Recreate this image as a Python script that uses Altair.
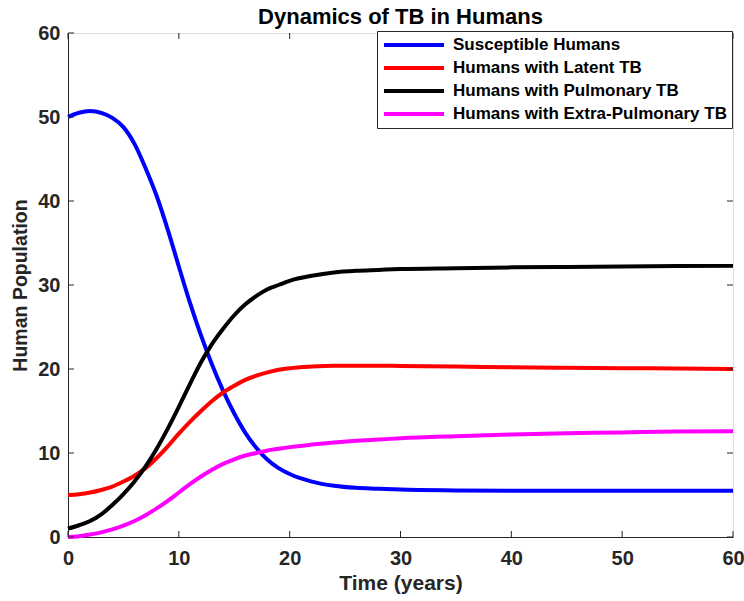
import altair as alt
import pandas as pd

# ---------------- data ----------------
time = [0, 1, 2, 3, 4, 5, 6, 7, 8, 9, 10, 11, 12, 13, 14, 15, 16, 17, 18, 19, 20,
        22, 24, 26, 28, 30, 35, 40, 45, 50, 55, 60]
susceptible = [50.0, 50.5, 50.7, 50.5, 49.9, 48.8, 46.8, 43.9, 40.6, 36.6, 32.2, 27.9,
               24.0, 20.5, 17.4, 14.7, 12.4, 10.6, 9.2, 8.2, 7.5,
               6.6, 6.1, 5.85, 5.75, 5.65, 5.55, 5.5, 5.5, 5.5, 5.5, 5.5]
latent = [5.0, 5.1, 5.3, 5.6, 6.0, 6.6, 7.3, 8.2, 9.4, 10.8, 12.3, 13.7,
          15.0, 16.2, 17.2, 18.0, 18.7, 19.2, 19.6, 19.9, 20.1,
          20.3, 20.4, 20.4, 20.4, 20.35, 20.3, 20.2, 20.15, 20.1, 20.05, 20.0]
pulmonary = [1.0, 1.4, 1.9, 2.7, 3.8, 5.1, 6.6, 8.4, 10.5, 12.9, 15.5, 18.2,
             20.8, 23.0, 24.8, 26.4, 27.7, 28.7, 29.5, 30.0, 30.5,
             31.1, 31.5, 31.7, 31.8, 31.9, 32.0, 32.1, 32.15, 32.2, 32.25, 32.3]
extra_pulmonary = [0.0, 0.1, 0.3, 0.55, 0.9, 1.35, 1.9, 2.6, 3.4, 4.3, 5.3, 6.3,
                   7.2, 8.0, 8.7, 9.25, 9.7, 10.0, 10.3, 10.5, 10.7,
                   11.0, 11.25, 11.45, 11.6, 11.75, 12.0, 12.2, 12.35, 12.45, 12.55, 12.6]

series_names = ["Susceptible Humans", "\u00a0Humans with Latent TB",
                "Humans with Pulmonary TB", "Humans with Extra-Pulmonary TB"]
series_colors = ["#0000FF", "#FF0000", "#000000", "#FF00FF"]
x_ticks = [0, 10, 20, 30, 40, 50, 60]
y_ticks = [0, 10, 20, 30, 40, 50, 60]

# ---------------- tables ----------------
rows = []
for name, vals in zip(series_names, [susceptible, latent, pulmonary, extra_pulmonary]):
    for t, v in zip(time, vals):
        rows.append({"t": t, "value": v, "series": name})
df = pd.DataFrame(rows)
xt = pd.DataFrame({"t": x_ticks})
yt = pd.DataFrame({"value": y_ticks})

# ---------------- styling ----------------
W, H = 665, 504
FONT = "Liberation Sans"
AX = "#262626"
TICK = 6

x_scale = alt.Scale(domain=[0, 60], nice=False, zero=False)
y_scale = alt.Scale(domain=[0, 60], nice=False, zero=False)

common = dict(grid=False, ticks=False, labelFlush=False, labelOverlap=False,
              labelFont=FONT, labelFontWeight="bold", labelColor=AX, labelFontSize=20,
              titleFont=FONT, titleFontWeight="bold", titleColor=AX,
              domainColor=AX, domainWidth=1)

x_axis = alt.Axis(title="Time (years)", values=x_ticks, labelPadding=11,
                  titleFontSize=21, titleX=W / 2, titleY=46,
                  titleBaseline="middle", titleAlign="center", **common)
y_axis = alt.Axis(title="Human Population", values=y_ticks, labelPadding=8,
                  titleFontSize=19.5, titleX=-48, titleY=H / 2,
                  titleBaseline="middle", titleAlign="center", titleAngle=270, **common)

X = alt.X("t:Q", scale=x_scale, axis=x_axis)
Y = alt.Y("value:Q", scale=y_scale, axis=y_axis)

lines = alt.Chart(df).mark_line(strokeWidth=4, interpolate="monotone").encode(
    x=X,
    y=Y,
    color=alt.Color(
        "series:N",
        scale=alt.Scale(domain=series_names, range=series_colors),
        legend=alt.Legend(
            title=None, orient="none", legendX=309, legendY=-2, direction="vertical",
            strokeColor=AX, fillColor="white", padding=5,
            symbolType="stroke", symbolSize=3600, symbolStrokeWidth=4,
            clipHeight=18, rowPadding=5, labelOffset=7,
            labelFont=FONT, labelFontSize=17, labelFontWeight="bold", labelColor="black",
            labelLimit=400,
        ),
    ),
    detail="series:N",
)

tick_x_bottom = alt.Chart(xt).mark_rule(color=AX, strokeWidth=1).encode(
    x=X, y=alt.value(H), y2=alt.value(H - TICK))
tick_x_top = alt.Chart(xt).mark_rule(color=AX, strokeWidth=1).encode(
    x=X, y=alt.value(0), y2=alt.value(TICK))
tick_y_left = alt.Chart(yt).mark_rule(color=AX, strokeWidth=1).encode(
    y=Y, x=alt.value(0), x2=alt.value(TICK))
tick_y_right = alt.Chart(yt).mark_rule(color=AX, strokeWidth=1).encode(
    y=Y, x=alt.value(W), x2=alt.value(W - TICK))

chart = alt.layer(lines, tick_x_bottom, tick_x_top, tick_y_left, tick_y_right).properties(
    width=W, height=H,
    title=alt.TitleParams("Dynamics of TB in Humans", font=FONT, fontSize=22,
                          fontWeight="bold", color="black", anchor="middle",
                          frame="group", offset=4, dy=10),
    autosize=alt.AutoSizeParams(type="none"),
    padding={"left": 68, "top": 33, "right": 11, "bottom": 64},
).configure_view(
    stroke=AX, strokeWidth=1
).configure(background="white")

chart.save("out.html", embed_options={"renderer": "svg", "actions": False})
